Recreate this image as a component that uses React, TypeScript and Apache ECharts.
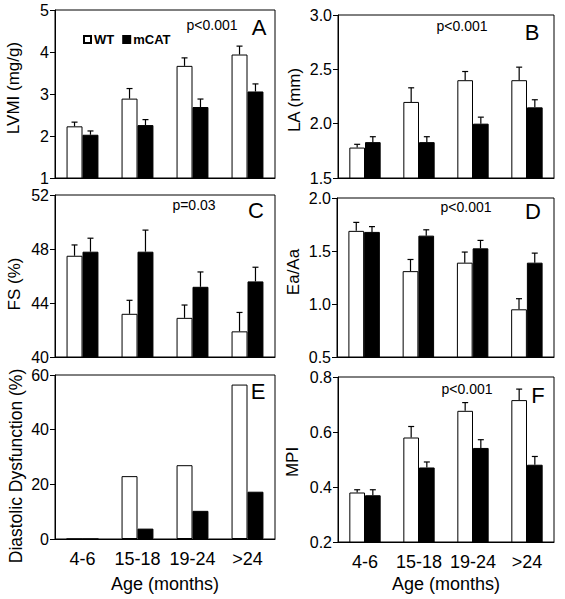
import React, { useEffect, useRef } from "react";
import * as echarts from "echarts";

// ---------- data ----------
const categories = ["4-6", "15-18", "19-24", ">24"];

const lvmiWT = [2.23, 2.89, 3.67, 3.94];
const lvmiWTErr = [0.1, 0.24, 0.19, 0.2];
const lvmiMCAT = [2.03, 2.26, 2.69, 3.06];
const lvmiMCATErr = [0.09, 0.13, 0.19, 0.18];

const laWT = [1.78, 2.2, 2.4, 2.4];
const laWTErr = [0.03, 0.13, 0.08, 0.12];
const laMCAT = [1.83, 1.83, 2.0, 2.15];
const laMCATErr = [0.05, 0.05, 0.06, 0.07];

const fsWT = [47.5, 43.2, 42.9, 41.9];
const fsWTErr = [0.8, 1.0, 0.95, 1.4];
const fsMCAT = [47.8, 47.8, 45.2, 45.6];
const fsMCATErr = [1.0, 1.6, 1.1, 1.05];

const eaWT = [1.69, 1.31, 1.39, 0.95];
const eaWTErr = [0.08, 0.11, 0.1, 0.1];
const eaMCAT = [1.68, 1.645, 1.525, 1.39];
const eaMCATErr = [0.05, 0.055, 0.075, 0.09];

const ddWT = [0, 23, 27, 56.5];
const ddMCAT = [0, 3.8, 10.3, 17.3];

const mpiWT = [0.38, 0.58, 0.677, 0.716];
const mpiWTErr = [0.01, 0.04, 0.03, 0.04];
const mpiMCAT = [0.37, 0.471, 0.542, 0.481];
const mpiMCATErr = [0.02, 0.02, 0.03, 0.03];

const yTitles = ["LVMI (mg/g)", "LA (mm)", "FS (%)", "Ea/Aa", "Diastolic Dysfunction (%)", "MPI"];
const panelLetters = ["A", "B", "C", "D", "E", "F"];
const pValues = ["p<0.001", "p<0.001", "p=0.03", "p<0.001", "", "p<0.001"];
const yMins = [1, 1.5, 40, 0.5, 0, 0.2];
const yMaxs = [5, 3.0, 52, 2.0, 60, 0.8];
const yIntervals = [1, 0.5, 4, 0.5, 20, 0.2];
const yDecimals = [0, 1, 0, 1, 0, 1];
const xTitle = "Age (months)";
const seriesNames = ["WT", "mCAT"];

// ---------- layout ----------
const FONT = "'Liberation Sans', Arial, Helvetica, sans-serif";
const BAR_FRAC = 0.29;
const grids = [
  { left: 55, top: 10, width: 220, height: 168 },
  { left: 338, top: 15, width: 216, height: 163 },
  { left: 55, top: 195, width: 220, height: 162 },
  { left: 337, top: 198, width: 217, height: 159 },
  { left: 55, top: 375, width: 220, height: 164 },
  { left: 338, top: 377, width: 216, height: 165 },
];
const yTitlePos = [
  [13, 88, 17],
  [294, 100, 17],
  [14, 284, 17],
  [293, 272, 17],
  [16, 466, 17.5],
  [292, 462, 17],
];
const letterPos = [
  [259, 27],
  [532, 32],
  [256, 210],
  [533, 211],
  [258, 391],
  [538, 395],
];
const pPos = [
  [212, 25],
  [462, 26],
  [194, 205],
  [466, 207],
  [0, 0],
  [467, 389],
];

type Panel = { wt: number[]; wtErr?: number[]; mc: number[]; mcErr?: number[] };
const panels: Panel[] = [
  { wt: lvmiWT, wtErr: lvmiWTErr, mc: lvmiMCAT, mcErr: lvmiMCATErr },
  { wt: laWT, wtErr: laWTErr, mc: laMCAT, mcErr: laMCATErr },
  { wt: fsWT, wtErr: fsWTErr, mc: fsMCAT, mcErr: fsMCATErr },
  { wt: eaWT, wtErr: eaWTErr, mc: eaMCAT, mcErr: eaMCATErr },
  { wt: ddWT, mc: ddMCAT },
  { wt: mpiWT, wtErr: mpiWTErr, mc: mpiMCAT, mcErr: mpiMCATErr },
];

function errSeries(i: number, means: number[], errs: number[], side: number) {
  return {
    type: "custom",
    xAxisIndex: i,
    yAxisIndex: i,
    z: 5,
    silent: true,
    data: means.map((m, k) => [k, m, m + errs[k]]),
    renderItem: (_p: any, api: any) => {
      const c = api.coord([api.value(0), api.value(1)]);
      const t = api.coord([api.value(0), api.value(2)]);
      const band = api.size([1, 0])[0];
      const x = c[0] + (side * band * BAR_FRAC) / 2;
      const st = { stroke: "#000", lineWidth: 1.2 };
      return {
        type: "group",
        children: [
          { type: "line", shape: { x1: x, y1: c[1], x2: x, y2: t[1] }, style: st },
          { type: "line", shape: { x1: x - 3, y1: t[1], x2: x + 3, y2: t[1] }, style: st },
        ],
      };
    },
  };
}

export default function App() {
  const ref = useRef<HTMLDivElement>(null);
  useEffect(() => {
    if (!ref.current) return;
    const chart = echarts.init(ref.current, null, { renderer: "svg" });

    const series: any[] = [];
    panels.forEach((p, i) => {
      series.push({
        name: seriesNames[0],
        type: "bar",
        xAxisIndex: i,
        yAxisIndex: i,
        data: p.wt,
        barWidth: `${BAR_FRAC * 100}%`,
        barGap: "0%",
        itemStyle: { color: "#fff", borderColor: "#000", borderWidth: 1 },
      });
      series.push({
        name: seriesNames[1],
        type: "bar",
        xAxisIndex: i,
        yAxisIndex: i,
        data: p.mc,
        barWidth: `${BAR_FRAC * 100}%`,
        barGap: "0%",
        itemStyle: { color: "#000", borderColor: "#000", borderWidth: 1 },
      });
      if (p.wtErr) series.push(errSeries(i, p.wt, p.wtErr, -1));
      if (p.mcErr) series.push(errSeries(i, p.mc, p.mcErr, 1));
    });

    const graphic: any[] = [];
    yTitles.forEach((t, i) => {
      graphic.push({
        type: "text",
        x: yTitlePos[i][0],
        y: yTitlePos[i][1],
        rotation: Math.PI / 2,
        style: {
          text: t,
          fill: "#000",
          font: `${yTitlePos[i][2]}px ${FONT}`,
          align: "center",
          verticalAlign: "middle",
        },
      });
      graphic.push({
        type: "text",
        x: letterPos[i][0],
        y: letterPos[i][1],
        style: {
          text: panelLetters[i],
          fill: "#000",
          font: `22px ${FONT}`,
          align: "center",
          verticalAlign: "middle",
        },
      });
      if (pValues[i]) {
        graphic.push({
          type: "text",
          x: pPos[i][0],
          y: pPos[i][1],
          style: {
            text: pValues[i],
            fill: "#000",
            font: `14px ${FONT}`,
            align: "center",
            verticalAlign: "middle",
          },
        });
      }
    });

    chart.setOption({
      animation: false,
      backgroundColor: "#fff",
      textStyle: { fontFamily: FONT },
      legend: {
        data: seriesNames,
        left: 78,
        top: 28,
        itemWidth: 7,
        itemHeight: 7,
        itemGap: 8,
        icon: "rect",
        textStyle: { fontSize: 13, fontWeight: "bold", color: "#000", fontFamily: FONT, padding: [0, 0, 0, -2] },
        selectedMode: false,
      },
      grid: grids.map((g) => ({ ...g, show: true, borderColor: "#000", borderWidth: 1, containLabel: false })),
      xAxis: grids.map((_g, i) => ({
        type: "category",
        gridIndex: i,
        data: categories,
        axisLine: { show: true, lineStyle: { color: "#000", width: 1 } },
        axisTick: { show: false },
        axisLabel: {
          show: i >= 4,
          interval: 0,
          hideOverlap: false,
          color: "#000",
          fontSize: 18,
          fontFamily: FONT,
          margin: 11,
        },
        name: i >= 4 ? xTitle : "",
        nameLocation: "middle",
        nameGap: i === 4 ? 36 : 33,
        nameTextStyle: { color: "#000", fontSize: 18, fontFamily: FONT },
        splitLine: { show: false },
      })),
      yAxis: grids.map((_g, i) => ({
        type: "value",
        gridIndex: i,
        min: yMins[i],
        max: yMaxs[i],
        interval: yIntervals[i],
        axisLine: { show: true, lineStyle: { color: "#000", width: 1 } },
        axisTick: { show: true, inside: false, length: 5, lineStyle: { color: "#000" } },
        axisLabel: {
          color: "#000",
          fontSize: 16,
          lineHeight: 14,
          fontFamily: FONT,
          margin: 6,
          formatter: (v: number) => v.toFixed(yDecimals[i]),
        },
        splitLine: { show: false },
      })),
      series,
      graphic,
    });
    return () => chart.dispose();
  }, []);
  return (
    <div
      ref={ref}
      style={{ position: "absolute", left: 0, top: 0, width: 565, height: 599, background: "#fff" }}
    />
  );
}
